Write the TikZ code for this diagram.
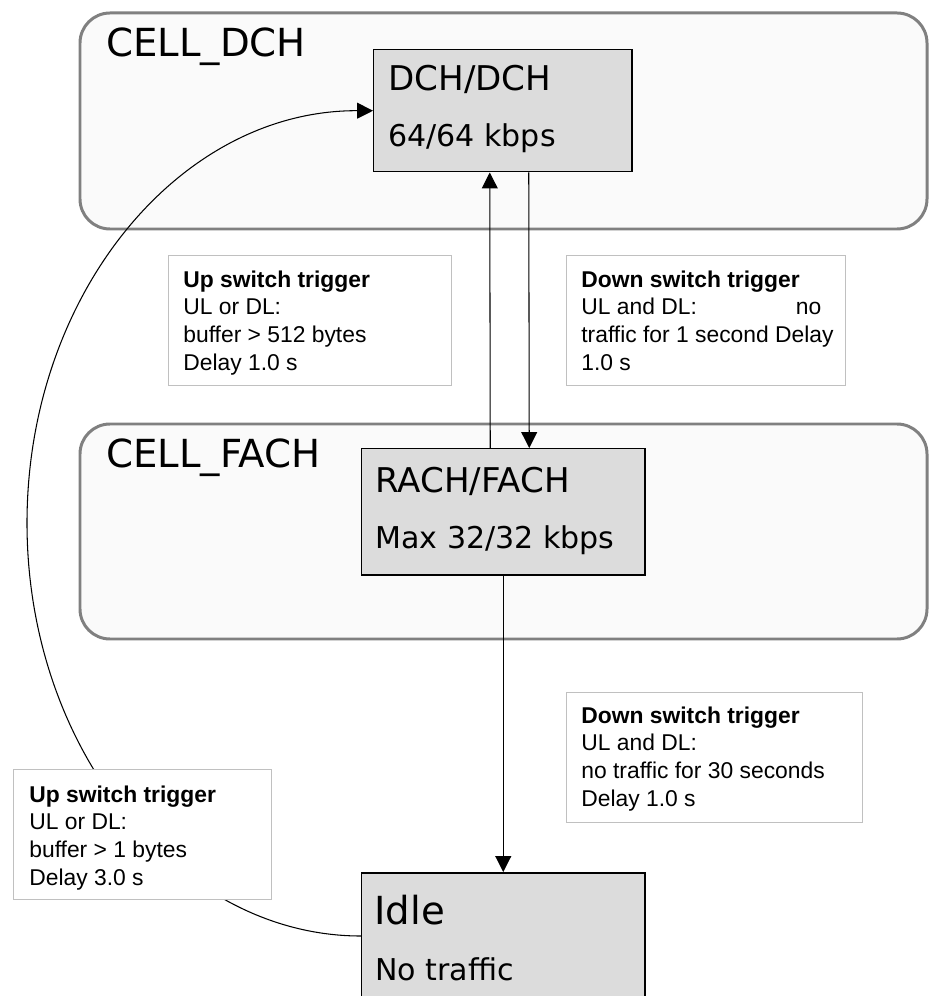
\documentclass[tikz,border=0pt]{standalone}
\usepackage{fontspec}
\setmainfont{Liberation Sans}
\newfontfamily\verd{DejaVu Sans}
\usetikzlibrary{arrows.meta}
\definecolor{cellgray}{HTML}{808080}
\definecolor{cellfill}{HTML}{FAFAFA}
\definecolor{chanfill}{HTML}{DCDCDC}
\definecolor{trigline}{HTML}{C0C0C0}

\begin{document}
\begin{tikzpicture}[
  cell/.style={draw=cellgray,line width=1.7pt,fill=cellfill,rounded corners=0.6cm,anchor=north west,inner sep=0pt},
  chan/.style={draw=black,line width=0.85pt,fill=chanfill,anchor=north west,inner sep=0pt},
  trig/.style={draw=trigline,line width=0.8pt,fill=white,anchor=north west,inner sep=0pt},
  celllabel/.style={font=\verd\fontsize{22}{26}\selectfont,anchor=base west,inner sep=0pt},
  chantitle/.style={font=\verd\fontsize{19.4}{23}\selectfont,anchor=base west,inner sep=0pt},
  chanrate/.style={font=\verd\fontsize{17.1}{20}\selectfont,anchor=base west,inner sep=0pt},
  trigtext/.style={font=\fontsize{13}{15.9}\selectfont,anchor=base west,inner sep=0pt},
  flow/.style={-{Triangle[length=9pt,width=9pt]},line width=0.6pt}
]
  \useasboundingbox (0,0) rectangle (18.56,-19.92);
  % the two cell states
  \node[cell,minimum width=16.94cm,minimum height=4.32cm] (celldch) at (1.57,-0.23) {};
  \node[cell,minimum width=16.94cm,minimum height=4.30cm] (cellfach) at (1.57,-8.45) {};
  \node[celllabel] (dchlbl) at (2.12,-1.14) {CELL\_DCH};
  \node[celllabel] (fachlbl) at (2.12,-9.34) {CELL\_FACH};
  % channel boxes
  \node[chan,minimum width=5.16cm,minimum height=2.44cm] (dch) at (7.46,-0.98) {};
  \node[chan,minimum width=5.66cm,minimum height=2.52cm] (rach) at (7.22,-8.96) {};
  \node[chan,minimum width=5.66cm,minimum height=3.00cm] (idle) at (7.22,-17.44) {};
  \node[chantitle] (dchname) at (7.76,-1.82) {DCH/DCH};
  \node[chanrate] (dchrate) at (7.76,-2.92) {64/64 kbps};
  \node[chantitle] (rachname) at (7.50,-9.84) {RACH/FACH};
  \node[chanrate] (rachrate) at (7.50,-10.96) {Max 32/32 kbps};
  \node[celllabel] (idlename) at (7.48,-18.48) {Idle};
  \node[chanrate] (idlerate) at (7.50,-19.60) {No traffic};
  % transitions
  \draw[flow] ([yshift=-1.28cm]idle.north west) .. controls (3.58,-18.72) and (0.54,-15.02) .. (0.54,-10.46)
    .. controls (0.54,-5.90) and (3.58,-2.2) .. (dch.west);
  \draw[flow] ([xshift=-0.26cm]rach.north) -- ([xshift=-0.26cm]dch.south);
  \draw[flow] ([xshift=0.52cm]dch.south) -- ([xshift=0.52cm]rach.north);
  \draw[flow] (rach.south) -- (idle.north);
  % trigger notes
  \node[trig,minimum width=5.66cm,minimum height=2.60cm] (up1) at (3.36,-5.10) {};
  \node[trig,minimum width=5.58cm,minimum height=2.60cm] (down1) at (11.32,-5.10) {};
  \node[trig,minimum width=5.92cm,minimum height=2.60cm] (down2) at (11.32,-13.84) {};
  \node[trig,minimum width=5.16cm,minimum height=2.60cm] (up2) at (0.26,-15.38) {};
  \node[trigtext] (up1txt) at (3.66,-5.74) {\parbox[t]{5.2cm}{\textbf{Up switch trigger}\\UL or DL:\\buffer > 512 bytes\\Delay 1.0 s}};
  \node[trigtext] (down1txt) at (11.62,-5.74) {\parbox[t]{5.2cm}{\textbf{Down switch trigger}\\\makebox[4.8cm][l]{UL and DL:\hfill no}\\traffic for 1 second Delay\\1.0 s}};
  \node[trigtext] (down2txt) at (11.62,-14.46) {\parbox[t]{5.6cm}{\textbf{Down switch trigger}\\UL and DL:\\no traffic for 30 seconds\\Delay 1.0 s}};
  \node[trigtext] (up2txt) at (0.58,-16.04) {\parbox[t]{4.8cm}{\textbf{Up switch trigger}\\UL or DL:\\buffer > 1 bytes\\Delay 3.0 s}};
\end{tikzpicture}
\end{document}
